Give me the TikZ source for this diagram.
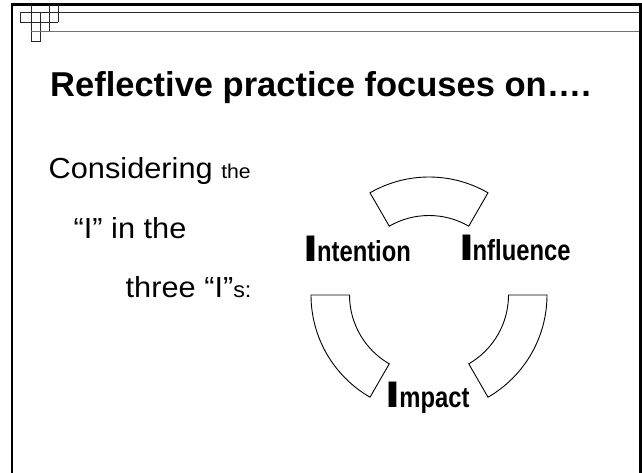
\documentclass[tikz,border=0pt]{standalone}
\usepackage{fontspec}
\setmainfont{Liberation Sans}
\usepackage{graphicx}
\usetikzlibrary{calc}
\newcommand\bigletterI{\scalebox{1.45}[1]{\fontsize{37}{37}\selectfont\bfseries I}}
\newcommand\restlbl[1]{\kern-1.2pt\scalebox{0.82}[1]{\fontsize{29}{29}\selectfont\bfseries #1}}
\begin{document}
\begin{tikzpicture}[x=1pt,y=-1pt,
  seg/.style={draw=black,line width=0.9pt,fill=white,line join=miter},
  lbl/.style={anchor=base west,inner sep=0pt},
  txt/.style={anchor=base west,inner sep=0pt},
  frameline/.style={line width=2.4pt,black},
  decoline/.style={line width=0.8pt,black!85}]
\useasboundingbox (0,0) rectangle (642,472);
\fill[white] (0,0) rectangle (642,472);
% frame
\draw[frameline] (12,473) -- (12,4.5) -- (640.5,4.5) -- (640.5,473);
% decoration
\draw[decoline] (20,22.3) -- (20,12.3) -- (639,12.3);
\draw[decoline] (20,22.3) -- (58.3,22.3);
\draw[decoline] (31,4.5) -- (31,41.7) -- (40,41.7) -- (40,12.3);
\draw[decoline] (49.3,4.5) -- (49.3,31.7);
\draw[decoline] (58.3,4.5) -- (58.3,22.3);
\draw[line width=1.2pt,black!55] (31,31.7) -- (639,31.7);
% title
\node[txt] (title) at (50,96) {\fontsize{34.5}{40}\selectfont\bfseries Reflective practice focuses on….};
% body text
\node[txt] (l1) at (48.5,178.5) {\scalebox{1.06}[1]{\fontsize{29}{32}\selectfont Considering \fontsize{20}{22}\selectfont the}};
\node[txt] (l2) at (73.5,238.3) {\scalebox{1.06}[1]{\fontsize{29}{32}\selectfont “I” in the}};
\node[txt] (l3) at (125.5,297.5) {\scalebox{1.06}[1]{\fontsize{29}{32}\selectfont three “I”\fontsize{22}{24}\selectfont s:}};
% ring segments
\coordinate (c) at (429,295);
\def\ro{118}
\def\ri{79.5}
\draw[seg] ($(c)+(-60:\ro)$) arc[start angle=-60,end angle=-120,radius=\ro]
  -- ($(c)+(-120:\ri)$) arc[start angle=-120,end angle=-60,radius=\ri] -- cycle;
\draw[seg] ($(c)+(180:\ro)$) arc[start angle=180,end angle=120,radius=\ro]
  -- ($(c)+(120:\ri)$) arc[start angle=120,end angle=180,radius=\ri] -- cycle;
\draw[seg] ($(c)+(60:\ro)$) arc[start angle=60,end angle=0,radius=\ro]
  -- ($(c)+(0:\ri)$) arc[start angle=0,end angle=60,radius=\ri] -- cycle;
% labels
\node[lbl] (intention) at (303.2,261.7) {\bigletterI\restlbl{ntention}};
\node[lbl] (influence) at (458.8,260) {\bigletterI\restlbl{nfluence}};
\node[lbl] (impact) at (385.5,407) {\bigletterI\restlbl{mpact}};
\end{tikzpicture}
\end{document}
